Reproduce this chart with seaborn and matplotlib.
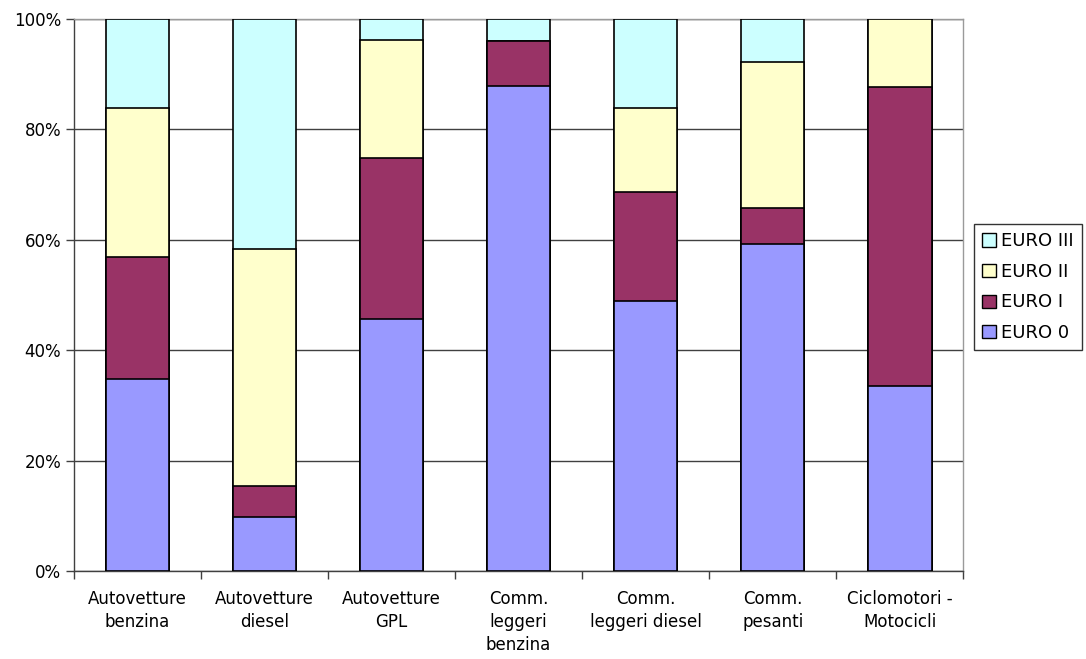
import numpy as np
import pandas as pd
import matplotlib
matplotlib.use("Agg")
import matplotlib.pyplot as plt
from matplotlib.patches import Patch
from matplotlib.ticker import FuncFormatter
import seaborn as sns

# ==========================================================
# DATA (percent share per category)
# ==========================================================

categories = [
    "Autovetture\nbenzina",
    "Autovetture\ndiesel",
    "Autovetture\nGPL",
    "Comm.\nleggeri\nbenzina",
    "Comm.\nleggeri diesel",
    "Comm.\npesanti",
    "Ciclomotori -\nMotocicli",
]

euro_0 = [34.8, 9.8, 45.7, 87.9, 48.9, 59.2, 33.5]
euro_1 = [22.1, 5.6, 29.1, 8.1, 19.8, 6.6, 54.2]
euro_2 = [27.0, 42.9, 21.4, 0.0, 15.2, 26.5, 12.3]
euro_3 = [16.1, 41.7, 3.8, 4.0, 16.1, 7.7, 0.0]

series_names = ["EURO 0", "EURO I", "EURO II", "EURO III"]
series_colors = ["#9999FF", "#993366", "#FFFFCC", "#CCFFFF"]

# ==========================================================
# CUMULATIVE SHARES (100% stacked)
# ==========================================================

df = pd.DataFrame({
    "cat": categories,
    "EURO 0": euro_0,
    "EURO I": euro_1,
    "EURO II": euro_2,
    "EURO III": euro_3,
})
totals = df[series_names].sum(axis=1)
cum = df[series_names].cumsum(axis=1).div(totals, axis=0) * 100
cum["cat"] = categories

# ==========================================================
# PLOT
# ==========================================================

sns.set_style("white", {"xtick.bottom": True, "ytick.left": True,
                        "text.color": "black", "xtick.color": "black",
                        "ytick.color": "black"})
plt.rcParams["font.family"] = ["DejaVu Sans"]

fig = plt.figure(figsize=(10.86, 6.59), dpi=100)
ax = fig.add_axes([0.068, 0.1335, 0.819, 0.8375])

# draw from top layer to bottom so lower segments sit on top
for name, color in reversed(list(zip(series_names, series_colors))):
    sns.barplot(
        data=cum,
        x="cat",
        y=name,
        color=color,
        width=0.5,
        edgecolor="black",
        linewidth=1.2,
        saturation=1,
        ax=ax,
        zorder=3,
    )

ax.set_ylim(0, 100)
ax.set_xlim(-0.5, len(categories) - 0.5)
ax.set_yticks(np.arange(0, 101, 20))
ax.yaxis.set_major_formatter(FuncFormatter(lambda v, p: f"{v:.0f}%"))
ax.yaxis.grid(True, color="#404040", linewidth=1)
ax.set_axisbelow(True)
ax.set_xlabel("")
ax.set_ylabel("")

# tick marks between categories
ax.set_xticks(np.arange(len(categories)))
ax.set_xticklabels(categories, fontsize=12, linespacing=1.35, va="top", color="black")
ax.set_xticks(np.arange(-0.5, len(categories), 1), minor=True)
ax.tick_params(axis="x", which="major", bottom=False, length=0, pad=14)
ax.tick_params(axis="x", which="minor", bottom=True, length=6, width=1,
               color="#404040", direction="out")
ax.tick_params(axis="y", left=True, length=6, width=1, color="#404040",
               direction="out", labelsize=12, pad=3, labelcolor="black")

for side in ["left", "bottom"]:
    ax.spines[side].set_color("#404040")
    ax.spines[side].set_linewidth(1)
for side in ["top", "right"]:
    ax.spines[side].set_visible(True)
    ax.spines[side].set_color("#9a9a9a")
    ax.spines[side].set_linewidth(1)

# legend
handles = [Patch(facecolor=c, edgecolor="black", linewidth=1, label=n)
           for n, c in zip(series_names, series_colors)][::-1]
leg = fig.legend(
    handles=handles,
    loc="upper left",
    bbox_to_anchor=(0.897, 0.66),
    fontsize=13,
    frameon=True,
    fancybox=False,
    edgecolor="black",
    handlelength=0.75,
    handleheight=0.75,
    handletextpad=0.3,
    labelspacing=0.7,
    borderpad=0.45,
    borderaxespad=0,
)
leg.get_frame().set_linewidth(1)
for t in leg.get_texts():
    t.set_color("black")

fig.savefig("out.png", dpi=100)
plt.close()
print("saved out.png")
